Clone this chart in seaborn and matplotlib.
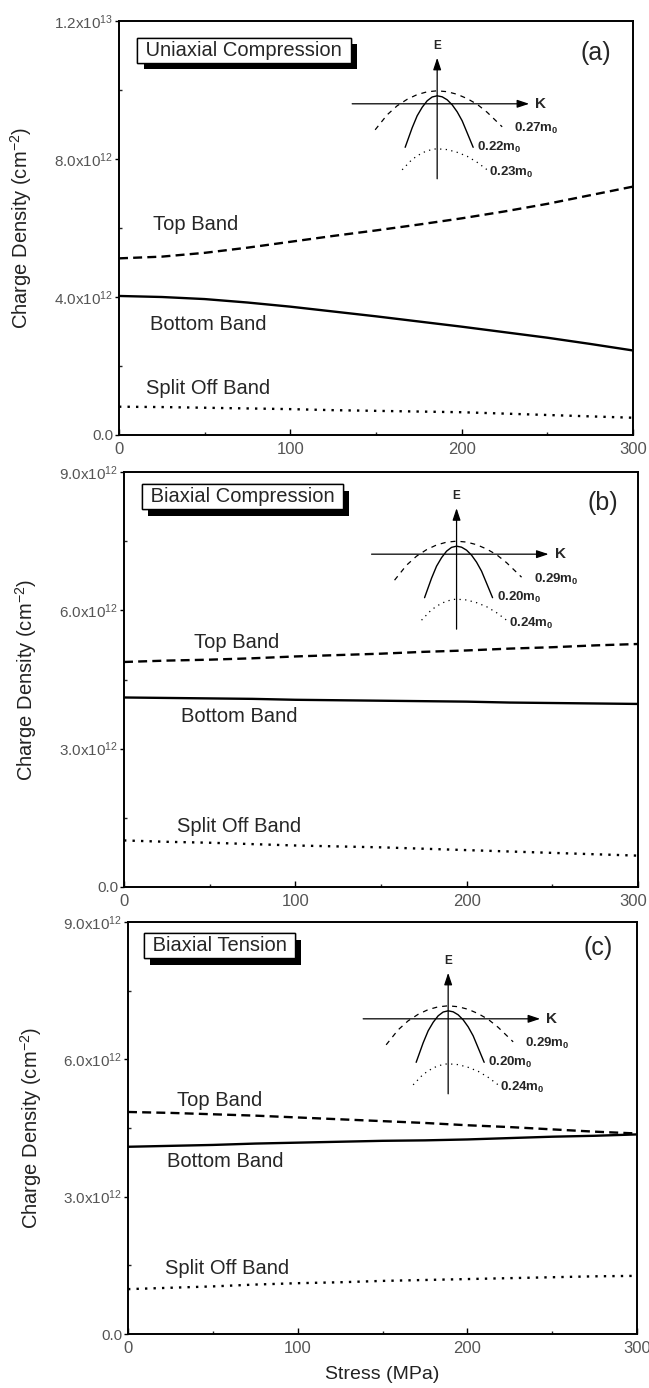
import numpy as np
import pandas as pd
import matplotlib
matplotlib.use('Agg')
import matplotlib.pyplot as plt
from matplotlib import patheffects
from matplotlib.ticker import FixedLocator
from matplotlib.transforms import ScaledTranslation
import seaborn as sns

sns.set_theme(style='ticks')
plt.rcParams['font.family'] = ['Liberation Sans', 'DejaVu Sans']
plt.rcParams['mathtext.fontset'] = 'custom'
plt.rcParams['mathtext.rm'] = 'Liberation Sans'
plt.rcParams['mathtext.it'] = 'Liberation Sans:italic'
plt.rcParams['mathtext.bf'] = 'Liberation Sans:bold'

# Stress axis (MPa), shared by all panels
stress = [0, 25, 50, 75, 100, 125, 150, 175, 200, 225, 250, 275, 300]

# Charge density in units of 1e12 cm^-2
# (a) uniaxial compression
top_a = [5.12, 5.17, 5.28, 5.43, 5.60, 5.77, 5.93, 6.10, 6.28, 6.48, 6.70, 6.95, 7.20]
bottom_a = [4.03, 4.00, 3.94, 3.84, 3.72, 3.58, 3.44, 3.29, 3.14, 2.98, 2.82, 2.64, 2.45]
split_a = [0.82, 0.81, 0.79, 0.77, 0.75, 0.72, 0.70, 0.68, 0.66, 0.62, 0.58, 0.54, 0.50]
# (b) biaxial compression
top_b = [4.88, 4.91, 4.93, 4.96, 5.00, 5.03, 5.06, 5.10, 5.13, 5.17, 5.20, 5.24, 5.27]
bottom_b = [4.11, 4.10, 4.09, 4.08, 4.06, 4.05, 4.04, 4.03, 4.02, 4.00, 3.99, 3.98, 3.97]
split_b = [1.01, 0.98, 0.96, 0.93, 0.90, 0.88, 0.86, 0.83, 0.80, 0.77, 0.74, 0.71, 0.68]
# (c) biaxial tension
top_c = [4.85, 4.83, 4.80, 4.77, 4.73, 4.69, 4.65, 4.61, 4.56, 4.52, 4.47, 4.42, 4.38]
bottom_c = [4.09, 4.11, 4.13, 4.16, 4.18, 4.20, 4.22, 4.23, 4.25, 4.28, 4.31, 4.33, 4.36]
split_c = [0.98, 1.01, 1.04, 1.08, 1.11, 1.13, 1.16, 1.18, 1.20, 1.22, 1.24, 1.26, 1.27]

bands = ['Top Band', 'Bottom Band', 'Split Off Band']
titles = ['Uniaxial Compression', 'Biaxial Compression', 'Biaxial Tension']
letters = ['(a)', '(b)', '(c)']
masses = [['0.27', '0.22', '0.23'], ['0.29', '0.20', '0.24'], ['0.29', '0.20', '0.24']]

# Inset sketch of the E-k dispersion (schematic units)
k_heavy = [-6.2, -5, -4, -3, -2, -1, 0, 1, 2, 3, 4, 5, 6.5]
e_heavy = [-2.6, -1.1, -0.2, 0.45, 0.92, 1.2, 1.3, 1.21, 0.95, 0.52, -0.05, -0.85, -2.3]
k_light = [-3.2, -2.5, -2, -1.5, -1, -0.5, 0, 0.5, 1, 1.5, 2, 2.5, 3, 3.6]
e_light = [-4.35, -2.4, -1.2, -0.35, 0.3, 0.68, 0.8, 0.7, 0.4, -0.1, -0.8, -1.7, -2.9, -4.35]
k_so = [-3.5, -2.5, -1.5, -0.5, 0, 1, 2, 3, 4, 5]
e_so = [-6.6, -5.55, -4.9, -4.55, -4.5, -4.58, -4.85, -5.25, -5.85, -6.6]

panels = [
    dict(top=top_a, bottom=bottom_a, split=split_a, ymax=12, ystep=4,
         labels=['0.0', '4.0x10$^{12}$', '8.0x10$^{12}$', '1.2x10$^{13}$'],
         pos=[119, 435, 514, 414], inset=(0.619, 0.800), letter=(0.928, 0.923),
         band_xy=[(19.8, 6.1), (17.9, 3.19), (15.5, 1.36)], box=(12.5, 11.15)),
    dict(top=top_b, bottom=bottom_b, split=split_b, ymax=9, ystep=3,
         labels=['0.0', '3.0x10$^{12}$', '6.0x10$^{12}$', '9.0x10$^{12}$'],
         pos=[124, 887, 514, 415], inset=(0.647, 0.802), letter=(0.931, 0.925),
         band_xy=[(40.7, 5.31), (33.4, 3.69), (31, 1.32)], box=(12, 8.46)),
    dict(top=top_c, bottom=bottom_c, split=split_c, ymax=9, ystep=3,
         labels=['0.0', '3.0x10$^{12}$', '6.0x10$^{12}$', '9.0x10$^{12}$'],
         pos=[128, 1334, 509, 412], inset=(0.629, 0.765), letter=(0.924, 0.937),
         band_xy=[(28.6, 5.1), (23, 3.76), (21.7, 1.44)], box=(11, 8.48)),
]

W, H = 649, 1388
fig = plt.figure(figsize=(W / 100, H / 100), dpi=100)

dash_map = {'Top Band': (3.8, 2.2), 'Bottom Band': '', 'Split Off Band': (1, 2.6)}
color_map = {b: 'black' for b in bands}
gray = '#555555'

for i, p in enumerate(panels):
    left, bottom_px, wpx, hpx = p['pos']
    ax = fig.add_axes([left / W, 1 - bottom_px / H, wpx / W, hpx / H])

    df = pd.DataFrame({
        'stress': stress * 3,
        'density': np.array(p['top'] + p['bottom'] + p['split']) * 1e12,
        'band': [b for b in bands for _ in stress],
    })
    sns.lineplot(data=df, x='stress', y='density', hue='band', style='band',
                 palette=color_map, dashes=dash_map, linewidth=1.7,
                 legend=False, ax=ax)

    ax.set_xlim(0, 300)
    ax.set_ylim(0, p['ymax'] * 1e12)
    yt = [v * 1e12 for v in range(0, p['ymax'] + 1, p['ystep'])]
    ax.yaxis.set_major_locator(FixedLocator(yt))
    ax.set_yticklabels(p['labels'])
    ax.yaxis.set_minor_locator(FixedLocator([v + p['ystep'] * 1e12 / 2 for v in yt[:-1]]))
    ax.set_xticks([0, 100, 200, 300])
    ax.set_xticklabels(['0', '100', '200', '300'])
    ax.xaxis.set_minor_locator(FixedLocator([50, 150, 250]))
    ax.tick_params(axis='both', which='major', labelcolor=gray, color='black', width=1.0)
    ax.tick_params(axis='x', which='major', labelsize=12, direction='in', length=4, pad=5)
    ax.tick_params(axis='x', which='minor', direction='in', length=2.5)
    ax.tick_params(axis='y', which='major', labelsize=11, direction='out', length=3, pad=1)
    ax.tick_params(axis='y', which='minor', direction='in', length=2.5)
    for s in ax.spines.values():
        s.set_visible(True)
        s.set_linewidth(1.4)
        s.set_color('black')

    # keep the last x label of the widest panel inside the figure
    if i == 1:
        last = ax.get_xticklabels()[-1]
        last.set_transform(last.get_transform()
                           + ScaledTranslation(-5 / 100, 0, fig.dpi_scale_trans))

    ax.set_ylabel('Charge Density (cm$^{-2}$)', fontsize=14.5, color='#222222')
    ax.yaxis.set_label_coords(-0.165, 0.5)
    if i == 2:
        ax.set_xlabel('Stress (MPa)', fontsize=14, color='#222222', labelpad=7)
    else:
        ax.set_xlabel('')

    # band names
    for name, (bx, by) in zip(bands, p['band_xy']):
        ax.text(bx, by * 1e12, name, fontsize=14.5, ha='left', va='center')

    # boxed title with drop shadow
    t = ax.text(p['box'][0], p['box'][1] * 1e12, ' ' + titles[i] + ' ', fontsize=14.5,
                ha='left', va='center',
                bbox=dict(boxstyle='square,pad=0.15', fc='white', ec='black', lw=1.0))
    t.get_bbox_patch().set_path_effects([
        patheffects.withSimplePatchShadow(offset=(4.5, -4.5), shadow_rgbFace='black', alpha=1),
        patheffects.Normal()])

    ax.text(*p['letter'], letters[i], transform=ax.transAxes, fontsize=18,
            ha='center', va='center')

    # inset E-k sketch
    cx, cy = p['inset']
    axin = ax.inset_axes([cx - 90 / wpx, cy - 80 / hpx, 190 / wpx, 140 / hpx])
    axin.set_xlim(-9, 10)
    axin.set_ylim(-8, 6)
    axin.axis('off')
    axin.patch.set_alpha(0)
    axin.plot(k_heavy, e_heavy, color='black', lw=0.9, dashes=(4, 4))
    axin.plot(k_light, e_light, color='black', lw=1.0)
    axin.plot(k_so, e_so, color='black', lw=0.9, dashes=(1, 3.5))
    arrow = dict(arrowstyle='-|>,head_length=0.6,head_width=0.2', color='black', lw=0.9,
                 shrinkA=0, shrinkB=0)
    axin.annotate('', xy=(9.2, 0), xytext=(-8.5, 0), arrowprops=arrow)
    axin.annotate('', xy=(0, 4.6), xytext=(0, -7.5), arrowprops=arrow)
    axin.text(0, 5.8, 'E', fontsize=8.5, fontweight='bold', ha='center', va='center')
    axin.text(9.8, 0, 'K', fontsize=11, fontweight='bold', ha='left', va='center')
    for (mx, my), m in zip([(7.7, -2.5), (4.0, -4.35), (5.2, -6.9)], masses[i]):
        axin.text(mx, my, r'$\mathbf{' + m + r'm_0}$', fontsize=9.5, ha='left', va='center',
                  clip_on=False)

fig.savefig('out.png', dpi=100)
